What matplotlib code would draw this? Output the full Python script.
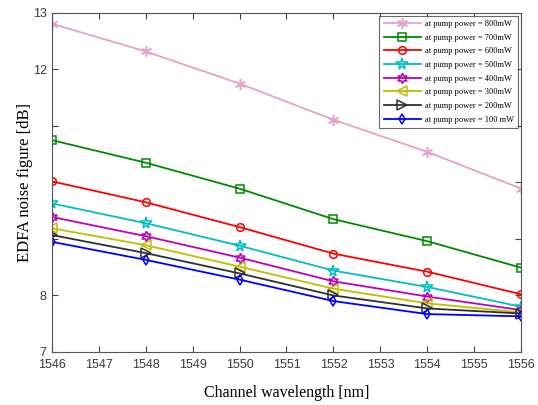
import matplotlib
matplotlib.use("Agg")
import matplotlib.pyplot as plt

wavelength = [1546, 1548, 1550, 1552, 1554, 1556]

nf_800 = [12.81, 12.32, 11.75, 11.11, 10.54, 9.89]
nf_700 = [10.75, 10.35, 9.89, 9.35, 8.96, 8.49]
nf_600 = [10.02, 9.65, 9.21, 8.74, 8.42, 8.02]
nf_500 = [9.63, 9.28, 8.88, 8.44, 8.15, 7.80]
nf_400 = [9.39, 9.05, 8.67, 8.25, 7.98, 7.74]
nf_300 = [9.19, 8.89, 8.51, 8.12, 7.86, 7.70]
nf_200 = [9.07, 8.75, 8.39, 8.00, 7.77, 7.68]
nf_100 = [8.95, 8.63, 8.28, 7.90, 7.67, 7.63]

labels = ["at pump power = 800mW", "at pump power = 700mW", "at pump power = 600mW",
          "at pump power = 500mW", "at pump power = 400mW", "at pump power = 300mW",
          "at pump power = 200mW", "at pump power = 100 mW"]

series = [nf_800, nf_700, nf_600, nf_500, nf_400, nf_300, nf_200, nf_100]
colors = ["#e6a3c8", "#008a00", "#ff0000", "#00bfbf", "#bf00bf", "#bfbf00", "#303030", "#0000ff"]
markers = [(6, 2, 0), "s", "o", "*", (6, 1, 0), "<", ">", "d"]
msizes = [8, 5.5, 5.5, 8.5, 7.5, 6.5, 6.5, 5.5]

fig = plt.figure(figsize=(5.38, 4.05), dpi=100)
ax = fig.add_axes([0.096, 0.131, 0.873, 0.837])

for y, c, m, ms, lab in zip(series, colors, markers, msizes, labels):
    ax.plot(wavelength, y, color=c, marker=m, markersize=ms, markerfacecolor="none",
            markeredgecolor=c, markeredgewidth=1.1, linewidth=1.3, label=lab)

ax.set_xlim(1546, 1556)
ax.set_ylim(7, 13)
ax.set_xticks(range(1546, 1557))
ax.set_yticks([7, 8, 9, 10, 11, 12, 13])
ax.set_yticklabels(["7", "8", "", "", "", "12", "13"])
ax.tick_params(direction="in", top=True, right=True, length=4, labelsize=9,
               labelcolor="#3a3a3a", color="#444444")
ax.tick_params(axis="x", pad=5)
for lbl in ax.get_xticklabels() + ax.get_yticklabels():
    lbl.set_family("Liberation Sans")
for s in ax.spines.values():
    s.set_color("#555555")

ax.set_xlabel("Channel wavelength [nm]", family="Liberation Serif", fontsize=11.5, labelpad=10)
ax.set_ylabel("EDFA noise figure [dB]", family="Liberation Serif", fontsize=12, labelpad=0)

leg = ax.legend(loc="upper right", prop={"family": "Liberation Serif", "size": 6},
                frameon=True, fancybox=False, edgecolor="#444444", handlelength=4.5,
                labelspacing=0.68, borderaxespad=0.35, handletextpad=0.5, borderpad=0.5)
leg.get_frame().set_linewidth(0.8)

fig.savefig("out.png", dpi=100)
